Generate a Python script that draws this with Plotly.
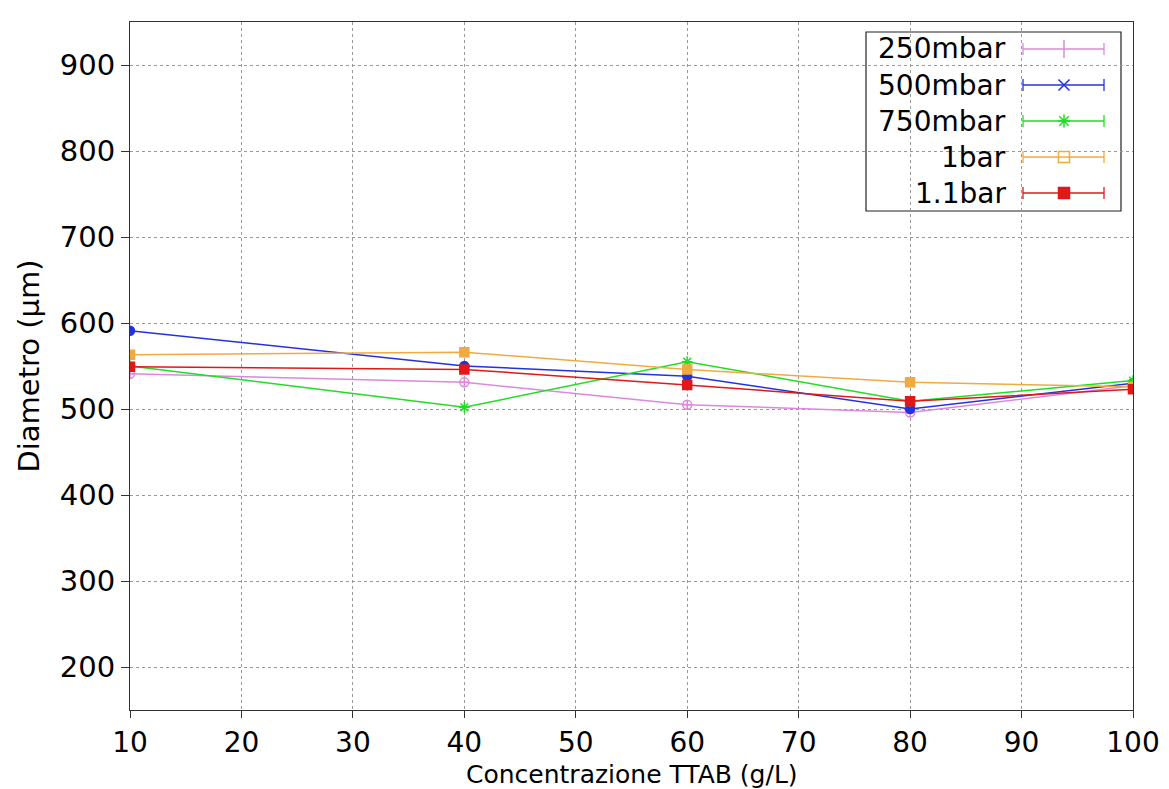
import plotly.graph_objects as go

conc = [10, 40, 60, 80, 100]
p250 = [541, 531, 505, 496, 527]
p500 = [591, 550, 538, 500, 530]
p750 = [550, 502, 555, 509, 533]
p1000 = [563, 566, 546, 531, 526]
p1100 = [549, 546, 528, 509, 523]

names = ["250mbar", "500mbar", "750mbar", "1bar", "1.1bar"]
colors = ["#dd88dd", "#2233dd", "#22dd22", "#f0aa40", "#e01818"]
symbols = ["circle-cross-open", "circle", "asterisk-open", "square", "square"]
leg_symbols = ["line-ns-open", "x-thin-open", "asterisk-open", "square-open", "square"]
series = [p250, p500, p750, p1000, p1100]

fig = go.Figure()
for n, c, s, v in zip(names, colors, symbols, series):
    fig.add_trace(go.Scatter(
        x=conc, y=v, mode="lines+markers", name=n,
        line=dict(color=c, width=1.5),
        marker=dict(symbol=s, size=9, color=c, line=dict(color=c, width=1.5)),
        showlegend=False,
    ))

# custom legend (gnuplot style: text right, sample with errorbar at right)
L, R, T, B = 866, 1121, 32, 211
W, H = 1003, 688
def px(x):
    return (x - 130) / W
def py(y):
    return (710 - y) / H

shapes = [dict(type="rect", xref="paper", yref="paper", x0=px(L), x1=px(R),
               y0=py(B), y1=py(T), line=dict(color="#222", width=1.2),
               fillcolor="white", layer="between")]
annotations = []
for i, (n, c, ls) in enumerate(zip(names, colors, leg_symbols)):
    yy = 49 + 36 * i
    annotations.append(dict(xref="paper", yref="paper", x=px(1008), y=py(yy),
                            text=n, showarrow=False, xanchor="right", yanchor="middle",
                            font=dict(family="DejaVu Sans", size=28, color="black")))
    shapes.append(dict(type="line", xref="paper", yref="paper", x0=px(1023), x1=px(1104),
                       y0=py(yy), y1=py(yy), line=dict(color=c, width=1.3), layer="above"))
    for xe in (1023, 1104):
        shapes.append(dict(type="line", xref="paper", yref="paper", x0=px(xe), x1=px(xe),
                           y0=py(yy - 6), y1=py(yy + 6), line=dict(color=c, width=1.3), layer="above"))
    fig.add_trace(go.Scatter(
        x=[px(1064)], y=[py(yy)], xaxis="x2", yaxis="y2", mode="markers",
        marker=dict(symbol=ls, size=13 if ls.startswith("line") else 11, color=c,
                    line=dict(color=c, width=1.5)),
        showlegend=False, hoverinfo="skip",
    ))

# x-axis title as annotation so it stays fully inside the page
annotations.append(dict(xref="paper", yref="paper", x=0.5, y=py(789.5),
                        text="Concentrazione TTAB (g/L)", showarrow=False,
                        xanchor="center", yanchor="bottom", borderpad=0,
                        font=dict(family="DejaVu Sans", size=25, color="black")))

fig.update_layout(
    width=1169, height=789,
    margin=dict(l=122, r=44, t=14, b=87),
    paper_bgcolor="white", plot_bgcolor="white",
    font=dict(family="DejaVu Sans", size=24, color="black"),
    shapes=shapes, annotations=annotations,
    xaxis=dict(range=[10, 100], tickvals=list(range(10, 101, 10)),
               showgrid=True, gridcolor="#999", griddash="dot", gridwidth=1,
               showline=True, linecolor="#333", linewidth=1.2, mirror=True,
               ticks="outside", ticklen=7, tickcolor="#333",
               tickfont=dict(size=28), automargin=False,
               zeroline=False),
    yaxis=dict(range=[150, 950], tickvals=list(range(200, 901, 100)),
               showgrid=True, gridcolor="#999", griddash="dot", gridwidth=1,
               showline=True, linecolor="#333", linewidth=1.2, mirror=True,
               ticks="outside", ticklen=8, tickcolor="#333",
               tickfont=dict(size=29), automargin=False,
               title=dict(text="Diametro (µm)", font=dict(size=29), standoff=11),
               zeroline=False),
    xaxis2=dict(range=[0, 1], overlaying="x", visible=False, fixedrange=True),
    yaxis2=dict(range=[0, 1], overlaying="y", visible=False, fixedrange=True),
)

fig.write_html("out.html")
